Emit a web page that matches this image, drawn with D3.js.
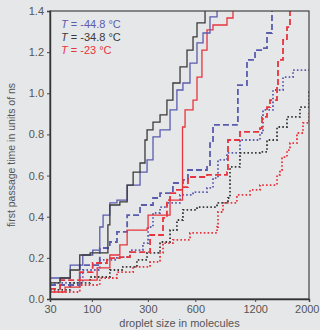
<!DOCTYPE html>
<html>
<head>
<meta charset="utf-8">
<script src="https://cdn.jsdelivr.net/npm/d3@7"></script>
<style>
  html, body { margin: 0; padding: 0; background: #e6e7e9; }
  svg { display: block; font-family: "Liberation Sans", Arial, sans-serif; }
</style>
</head>
<body>
<svg width="320" height="330"></svg>
<script>
// droplet size (molecules) vs first passage time (ns)
const blueSolid = [[30,0.102],[57,0.165],[80,0.214],[102,0.238],[120,0.272],[120,0.350],[129,0.408],[149,0.467],[172,0.481],[209,0.554],[263,0.617],[296,0.676],[326,0.788],[364,0.822],[423,0.919],[467,1.016],[508,1.050],[559,1.147],[613,1.245],[662,1.293],[722,1.371],[786,1.42]];
const blackSolid = [[30,0.078],[42,0.102],[57,0.141],[74,0.214],[96,0.224],[143,0.224],[143,0.360],[149,0.457],[182,0.472],[209,0.554],[233,0.617],[263,0.661],[286,0.773],[296,0.822],[326,0.860],[364,0.895],[404,0.967],[441,1.050],[488,1.128],[537,1.210],[582,1.274],[613,1.342],[679,1.42]];
const redSolid = [[30,0.034],[49,0.058],[74,0.092],[113,0.151],[149,0.214],[182,0.263],[209,0.335],[296,0.345],[301,0.408],[423,0.418],[423,0.481],[505,0.836],[523,0.919],[582,0.967],[613,1.079],[653,1.210],[696,1.308],[749,1.332],[883,1.366],[945,1.42]];
const blueDashed = [[30,0.068],[74,0.165],[120,0.248],[149,0.277],[172,0.326],[209,0.408],[263,0.457],[326,0.491],[364,0.515],[441,0.564],[508,0.579],[544,0.627],[696,0.651],[722,0.758],[749,0.846],[987,0.856],[998,1.040],[1101,1.162],[1198,1.210],[1300,1.220],[1353,1.293],[1421,1.42]];
const redDashed = [[30,0.049],[42,0.092],[74,0.131],[102,0.175],[140,0.199],[182,0.204],[220,0.228],[311,0.253],[311,0.311],[381,0.321],[381,0.394],[404,0.481],[423,0.515],[467,0.530],[508,0.544],[544,0.593],[696,0.603],[883,0.617],[893,0.773],[1021,0.812],[1261,0.831],[1287,0.885],[1353,0.933],[1394,0.967],[1492,1.031],[1506,1.162],[1580,1.259],[1640,1.322],[1686,1.42]];
const blueDotted = [[30,0.078],[80,0.141],[120,0.190],[172,0.204],[220,0.238],[276,0.272],[301,0.350],[326,0.418],[364,0.447],[404,0.467],[488,0.506],[582,0.520],[696,0.540],[749,0.588],[795,0.676],[883,0.710],[1021,0.773],[1261,0.807],[1300,0.919],[1435,1.016],[1580,1.079],[1734,1.113],[2000,1.123]];
const blackDotted = [[30,0.044],[57,0.078],[96,0.107],[149,0.141],[193,0.156],[249,0.190],[296,0.224],[364,0.277],[423,0.335],[467,0.384],[508,0.433],[613,0.447],[786,0.467],[893,0.491],[914,0.642],[1021,0.710],[1261,0.715],[1353,0.773],[1492,0.836],[1640,0.885],[1847,0.933],[2000,1.016]];
const redDotted = [[30,0.034],[74,0.068],[120,0.102],[172,0.131],[233,0.156],[311,0.180],[364,0.224],[381,0.272],[441,0.287],[537,0.287],[559,0.321],[786,0.350],[795,0.423],[843,0.467],[987,0.506],[1137,0.530],[1261,0.554],[1492,0.603],[1535,0.627],[1565,0.690],[1640,0.724],[1686,0.758],[1797,0.807],[1897,0.856],[2000,0.904]];

const xTicks = [30, 100, 300, 600, 1200, 2000];
const yTicks = [0, 0.2, 0.4, 0.6, 0.8, 1.0, 1.2, 1.4];
const legendLabels = ['-44.8 °C', '-34.8 °C', '-23 °C'];

const colors = { blue: '#5a5cae', black: '#3a3a3a', red: '#e8343c' };

const series = [
  { data: blueDotted, color: colors.blue, style: 'dotted' },
  { data: blackDotted, color: colors.black, style: 'dotted' },
  { data: redDotted, color: colors.red, style: 'dotted' },
  { data: blueDashed, color: colors.blue, style: 'dashed' },
  { data: redDashed, color: colors.red, style: 'dashed' },
  { data: redSolid, color: colors.red, style: 'solid' },
  { data: blueSolid, color: colors.blue, style: 'solid' },
  { data: blackSolid, color: colors.black, style: 'solid' }
];

const svg = d3.select('svg');
const margin = { top: 11, right: 11, bottom: 31, left: 50 };
const width = +svg.attr('width') - margin.left - margin.right;
const height = +svg.attr('height') - margin.top - margin.bottom;

// x axis is linear in droplet radius, i.e. cube root of size
const x = d3.scalePow().exponent(1 / 3).domain([30, 2000]).range([0, width]);
const y = d3.scaleLinear().domain([0, 1.4]).range([height, 0]);

const g = svg.append('g').attr('transform', `translate(${margin.left},${margin.top})`);

g.append('clipPath').attr('id', 'plot-clip')
  .append('rect').attr('width', width).attr('height', height);

/* ---- curves ---- */
const line = d3.line()
  .x(d => x(d[0]))
  .y(d => y(d[1]))
  .curve(d3.curveStepAfter);

const dashes = { solid: null, dashed: '6,3', dotted: '1.6,2.2' };
const widths = { solid: 1.3, dashed: 1.8, dotted: 1.8 };

g.append('g').attr('clip-path', 'url(#plot-clip)')
  .selectAll('path')
  .data(series)
  .join('path')
  .attr('d', d => line(d.data))
  .attr('fill', 'none')
  .attr('stroke', d => d.color)
  .attr('stroke-width', d => widths[d.style])
  .attr('stroke-dasharray', d => dashes[d.style]);

/* ---- frame and axes ---- */
g.append('rect')
  .attr('width', width).attr('height', height)
  .attr('fill', 'none').attr('stroke', '#444').attr('stroke-width', 1.2);

const yAxis = g.append('g')
  .call(d3.axisLeft(y).tickValues(yTicks).tickFormat(d3.format('.1f')).tickSize(3).tickPadding(3));
const xAxis = g.append('g')
  .attr('transform', `translate(0,${height})`)
  .call(d3.axisBottom(x).tickValues(xTicks).tickFormat(d3.format('d')).tickSize(3).tickPadding(3));

[yAxis, xAxis].forEach(a => {
  a.select('.domain').attr('stroke', '#333').attr('stroke-width', 1.4);
  a.selectAll('.tick line').attr('stroke', '#444');
  a.selectAll('.tick text').attr('fill', '#555').style('font-size', '11px');
});

// keep the last x label inside the window
xAxis.selectAll('.tick text')
  .filter(d => d === 2000)
  .attr('text-anchor', 'end')
  .attr('dx', 10);

/* ---- axis titles ---- */
svg.append('text')
  .attr('transform', `translate(15,${margin.top + height / 2}) rotate(-90)`)
  .attr('text-anchor', 'middle')
  .attr('fill', '#555')
  .style('font-size', '10.5px')
  .text('first passage time in units of ns');

svg.append('text')
  .attr('x', margin.left + width / 2)
  .attr('y', 327)
  .attr('text-anchor', 'middle')
  .attr('fill', '#555')
  .style('font-size', '11px')
  .text('droplet size in molecules');

/* ---- legend ---- */
const legendColors = [colors.blue, colors.black, colors.red];
const legend = g.append('g').attr('transform', 'translate(11,17)');
legend.selectAll('text')
  .data(legendLabels)
  .join('text')
  .attr('y', (d, i) => i * 13)
  .attr('fill', (d, i) => legendColors[i])
  .style('font-size', '11px')
  .each(function (d) {
    const t = d3.select(this);
    t.append('tspan').style('font-style', 'italic').text('T');
    t.append('tspan').text(' = ' + d);
  });
</script>
</body>
</html>
